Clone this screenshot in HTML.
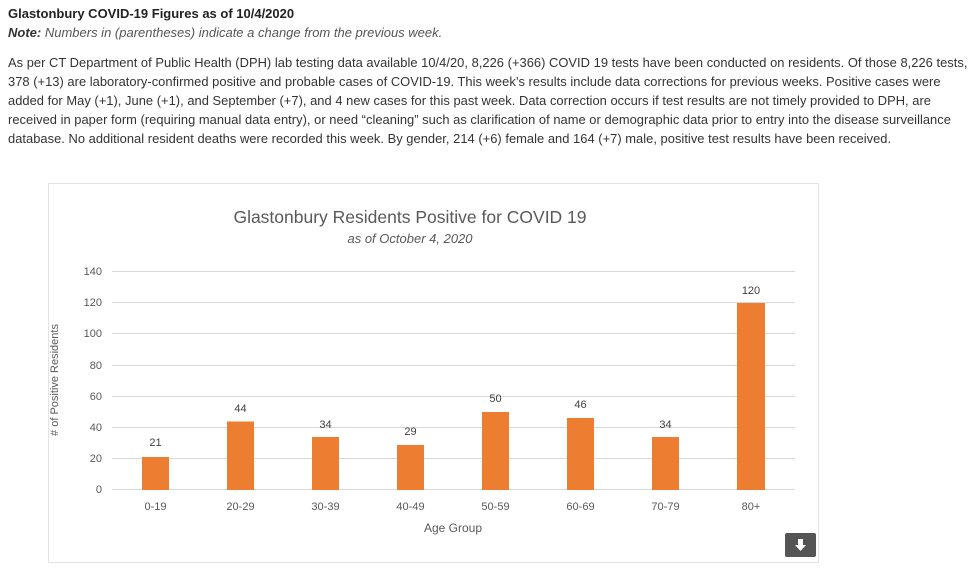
<!DOCTYPE html>
<html><head><style>
body{margin:0;background:#fff;width:980px;height:578px;overflow:hidden;font-family:"Liberation Sans",Arial,sans-serif;color:#333;font-size:13px}
.t{position:absolute;left:8px;white-space:nowrap}
</style></head><body>
<div class="t" style="top:6px;font-weight:bold;color:#222">Glastonbury COVID-19 Figures as of 10/4/2020</div>
<div class="t" style="top:25px;font-style:italic;color:#555"><b style="color:#333">Note:</b> Numbers in (parentheses) indicate a change from the previous week.</div>
<div class="t" style="top:53px;line-height:19px;font-size:12.9px;letter-spacing:0.03px">As per CT Department of Public Health (DPH) lab testing data available 10/4/20, 8,226 (+366) COVID 19 tests have been conducted on residents. Of those 8,226 tests,<br>378 (+13) are laboratory-confirmed positive and probable cases of COVID-19. This week’s results include data corrections for previous weeks. Positive cases were<br>added for May (+1), June (+1), and September (+7), and 4 new cases for this past week. Data correction occurs if test results are not timely provided to DPH, are<br>received in paper form (requiring manual data entry), or need “cleaning” such as clarification of name or demographic data prior to entry into the disease surveillance<br>database. No additional resident deaths were recorded this week. By gender, 214 (+6) female and 164 (+7) male, positive test results have been received.</div>
<svg style="position:absolute;left:0;top:0" width="980" height="578" font-family="Liberation Sans,sans-serif">
<rect x="48.5" y="183.5" width="770" height="379" fill="#fff" stroke="#e3e3e3"/>
<text x="410" y="223" text-anchor="middle" font-size="17.5" fill="#595959">Glastonbury Residents Positive for COVID 19</text>
<text x="410" y="243" text-anchor="middle" font-size="13" font-style="italic" fill="#595959">as of October 4, 2020</text>
<g stroke="#d9d9d9" stroke-width="1">
<line x1="112" x2="795" y1="271.5" y2="271.5"/><line x1="112" x2="795" y1="302.5" y2="302.5"/><line x1="112" x2="795" y1="333.5" y2="333.5"/><line x1="112" x2="795" y1="365.5" y2="365.5"/><line x1="112" x2="795" y1="396.5" y2="396.5"/><line x1="112" x2="795" y1="427.5" y2="427.5"/><line x1="112" x2="795" y1="458.5" y2="458.5"/><line x1="112" x2="795" y1="489.5" y2="489.5"/>
</g>
<g font-size="11" fill="#595959" text-anchor="end">
<text x="102" y="275">140</text><text x="102" y="306">120</text><text x="102" y="337">100</text><text x="102" y="369">80</text><text x="102" y="400">60</text><text x="102" y="431">40</text><text x="102" y="462">20</text><text x="102" y="493">0</text>
</g>
<text transform="translate(58,380) rotate(-90)" text-anchor="middle" font-size="11" fill="#595959"># of Positive Residents</text>
<g fill="#ed7d31">
<rect x="142" y="457" width="27" height="33"/><rect x="227" y="421.5" width="27" height="68.5"/><rect x="312" y="437" width="27" height="53"/><rect x="397" y="445" width="27" height="45"/><rect x="482" y="412" width="27" height="78"/><rect x="567" y="418" width="27" height="72"/><rect x="652" y="437" width="27" height="53"/><rect x="737" y="303" width="28" height="187"/>
</g>
<g font-size="11" fill="#404040" text-anchor="middle">
<text x="155.5" y="446">21</text><text x="240.5" y="412">44</text><text x="325.5" y="428">34</text><text x="410.5" y="435">29</text><text x="495.5" y="402">50</text><text x="580.5" y="408">46</text><text x="665.5" y="428">34</text><text x="751" y="294">120</text>
</g>
<g font-size="11" fill="#595959" text-anchor="middle">
<text x="155.5" y="510">0-19</text><text x="240.5" y="510">20-29</text><text x="325.5" y="510">30-39</text><text x="410.5" y="510">40-49</text><text x="495.5" y="510">50-59</text><text x="580.5" y="510">60-69</text><text x="665.5" y="510">70-79</text><text x="751" y="510">80+</text>
</g>
<text x="453" y="532" text-anchor="middle" font-size="12" fill="#595959">Age Group</text>
<rect x="785" y="533" width="31" height="24" rx="2" fill="#555"/>
<path d="M798 539h5v6h3l-5.5 6-5.5-6h3z" fill="#fff"/>
</svg>
</body></html>
